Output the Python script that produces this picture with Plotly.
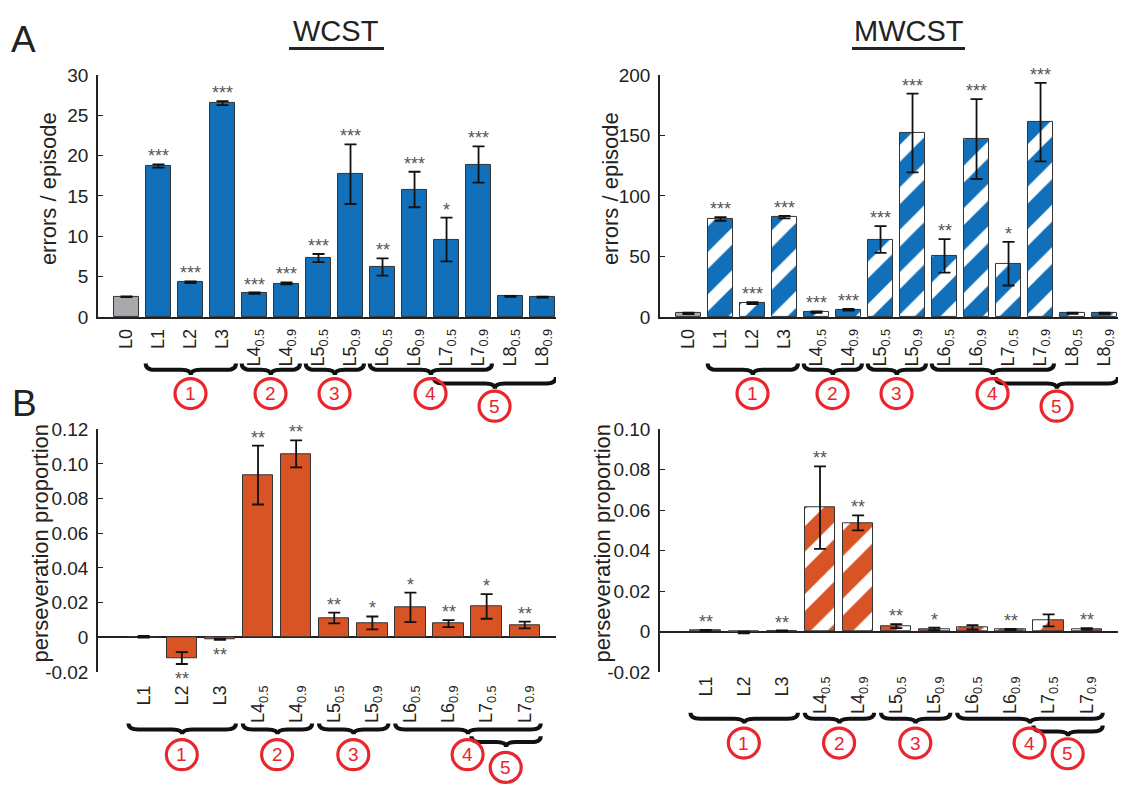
import plotly.graph_objects as go

W, H = 1125, 792

labels_A = ['L0', 'L1', 'L2', 'L3',
            'L4<sub>0.5</sub>', 'L4<sub>0.9</sub>', 'L5<sub>0.5</sub>', 'L5<sub>0.9</sub>',
            'L6<sub>0.5</sub>', 'L6<sub>0.9</sub>', 'L7<sub>0.5</sub>', 'L7<sub>0.9</sub>',
            'L8<sub>0.5</sub>', 'L8<sub>0.9</sub>']
labels_B = labels_A[1:12]

wcst_err_mean = [2.5, 18.7, 4.3, 26.5, 2.95, 4.15, 7.3, 17.7, 6.2, 15.8, 9.6, 18.9, 2.55, 2.45]
wcst_err_sem = [0.05, 0.2, 0.1, 0.25, 0.08, 0.12, 0.5, 3.7, 1.07, 2.2, 2.7, 2.25, 0.06, 0.06]
wcst_err_stars = ['', '***', '***', '***', '***', '***', '***', '***', '**', '***', '*', '***', '', '']

mwcst_err_mean = [3, 81, 11.5, 82.5, 4, 6, 64, 152, 50.5, 147, 44, 161, 3, 3]
mwcst_err_sem = [0.6, 1.5, 0.8, 1.0, 0.6, 0.7, 11, 32.5, 13.8, 33, 18, 32.5, 0.5, 0.5]
mwcst_err_stars = ['', '***', '***', '***', '***', '***', '***', '***', '**', '***', '*', '***', '', '']

wcst_pers_mean = [0.0003, -0.012, -0.0011, 0.0936, 0.1058, 0.0111, 0.0083, 0.0173, 0.0079, 0.0178, 0.0071]
wcst_pers_sem = [0.0005, 0.0034, 0.0003, 0.017, 0.0078, 0.0031, 0.0037, 0.0085, 0.002, 0.0071, 0.0019]
wcst_pers_stars = ['', '**', '**', '**', '**', '**', '*', '*', '**', '*', '**']

mwcst_pers_mean = [0.0005, -0.0005, 0.0003, 0.0613, 0.0537, 0.0027, 0.0013, 0.0021, 0.001, 0.0055, 0.0013]
mwcst_pers_sem = [0.0003, 0.0004, 0.0002, 0.0204, 0.0037, 0.001, 0.0006, 0.0011, 0.0003, 0.003, 0.0004]
mwcst_pers_stars = ['**', '', '**', '**', '**', '**', '*', '', '**', '', '**']

ticks_A = [0, 5, 10, 15, 20, 25, 30]
ticks_A_right = [0, 50, 100, 150, 200]
ticks_B_left = [-0.02, 0, 0.02, 0.04, 0.06, 0.08, 0.10, 0.12]
ticktext_B_left = ['-0.02', '0', '0.02', '0.04', '0.06', '0.08', '0.10', '0.12']
ticks_B_right = [-0.02, 0, 0.02, 0.04, 0.06, 0.08, 0.10]
ticktext_B_right = ['-0.02', '0', '0.02', '0.04', '0.06', '0.08', '0.10']

# brace groups: (first index, last index, label, level)
braces_A = [(1, 3, '1', 0), (4, 5, '2', 0), (6, 7, '3', 0), (8, 11, '4', 0), (10, 13, '5', 1)]
braces_B = [(0, 2, '1', 0), (3, 4, '2', 0), (5, 6, '3', 0), (7, 10, '4', 0), (9, 10, '5', 1)]

BLUE = '#1170B9'
GRAY = '#A7A9AC'
ORANGE = '#D85425'
RED = '#E8262B'
INK = '#222222'
FONT = 'Liberation Sans, Arial, Helvetica, sans-serif'


def px_x(p):
    return p / W


def px_y(p):
    return 1 - p / H


def err(arr):
    return dict(type='data', array=arr, color='#111111', thickness=1.8, width=6)


def hatch(col):
    return dict(shape='/', fgcolor=col, bgcolor='white', size=30, solidity=0.6, fillmode='replace')


OUTLINE = dict(color='#333333', width=1)

fig = go.Figure()

# ---------- Panel A left: WCST errors ----------
nA = len(labels_A)
fig.add_trace(go.Bar(
    x=list(range(nA)), y=wcst_err_mean, width=0.8,
    marker=dict(color=[GRAY] + [BLUE] * (nA - 1), line=OUTLINE),
    error_y=err(wcst_err_sem), xaxis='x', yaxis='y'))

# ---------- Panel A right: MWCST errors (L0 solid grey, rest hatched) ----------
fig.add_trace(go.Bar(
    x=[0], y=mwcst_err_mean[:1], width=0.8,
    marker=dict(color=GRAY, line=OUTLINE),
    error_y=err(mwcst_err_sem[:1]), xaxis='x2', yaxis='y2'))
fig.add_trace(go.Bar(
    x=list(range(1, nA)), y=mwcst_err_mean[1:], width=0.8,
    marker=dict(color='white', line=OUTLINE, pattern=hatch(BLUE)),
    error_y=err(mwcst_err_sem[1:]), xaxis='x2', yaxis='y2'))

# ---------- Panel B left: WCST perseveration ----------
nB = len(labels_B)
fig.add_trace(go.Bar(
    x=list(range(nB)), y=wcst_pers_mean, width=0.8,
    marker=dict(color=ORANGE, line=OUTLINE),
    error_y=err(wcst_pers_sem), xaxis='x3', yaxis='y3'))

# ---------- Panel B right: MWCST perseveration (hatched) ----------
fig.add_trace(go.Bar(
    x=list(range(nB)), y=mwcst_pers_mean, width=0.8,
    marker=dict(color='white', line=OUTLINE, pattern=hatch(ORANGE)),
    error_y=err(mwcst_pers_sem), xaxis='x4', yaxis='y4'))

# domains (pixel based)
xL = [px_x(98), px_x(556)]
xR = [px_x(660), px_x(1118)]
yA = [px_y(315.3), px_y(66.7)]
yB = [px_y(680), px_y(430.7)]

xcommon = dict(showgrid=False, zeroline=False, ticks='', tickangle=-90,
               tickfont=dict(size=18, color=INK, family=FONT), fixedrange=True)
ycommon = dict(showgrid=False, ticks='inside', ticklen=5, tickwidth=1.2, tickcolor=INK,
               showline=True, linecolor=INK, linewidth=1.5,
               tickfont=dict(size=19, color=INK, family=FONT), ticklabelstandoff=4)

fig.update_layout(
    width=W, height=H, margin=dict(l=0, r=0, t=0, b=0),
    paper_bgcolor='white', plot_bgcolor='white', showlegend=False, barmode='overlay',
    font=dict(family=FONT, color=INK), bargap=0,
    xaxis=dict(domain=xL, anchor='y', range=[-0.89, 13.42], tickvals=list(range(nA)), ticktext=labels_A,
               showline=True, linecolor=INK, linewidth=1.5, ticklabelstandoff=3, **xcommon),
    yaxis=dict(domain=yA, anchor='x', range=[0, 30], tickvals=ticks_A, zeroline=False, **ycommon),
    xaxis2=dict(domain=xR, anchor='y2', range=[-0.89, 13.42], tickvals=list(range(nA)), ticktext=labels_A,
                showline=True, linecolor=INK, linewidth=1.5, ticklabelstandoff=3, **xcommon),
    yaxis2=dict(domain=yA, anchor='x2', range=[0, 200], tickvals=ticks_A_right, zeroline=False, **ycommon),
    xaxis3=dict(domain=xL, anchor='y3', range=[-1.2, 10.82], tickvals=list(range(nB)), ticktext=labels_B,
                showline=False, ticklabelstandoff=9, **xcommon),
    yaxis3=dict(domain=yB, anchor='x3', range=[-0.02, 0.12], tickvals=ticks_B_left, ticktext=ticktext_B_left,
                zeroline=True, zerolinecolor=INK, zerolinewidth=1.5, **ycommon),
    xaxis4=dict(domain=xR, anchor='y4', range=[-1.2, 10.82], tickvals=list(range(nB)), ticktext=labels_B,
                showline=False, ticklabelstandoff=0, **xcommon),
    yaxis4=dict(domain=yB, anchor='x4', range=[-0.02, 0.10], tickvals=ticks_B_right, ticktext=ticktext_B_right,
                zeroline=True, zerolinecolor=INK, zerolinewidth=1.5, **ycommon),
)

annotations = []
shapes = []


def add_stars(means, sems, stars, xref, yref):
    for i, (m, s, st) in enumerate(zip(means, sems, stars)):
        if not st:
            continue
        if m >= 0:
            annotations.append(dict(x=i, y=m + s, xref=xref, yref=yref, text=st, showarrow=False,
                                    xanchor='center', yanchor='bottom', yshift=-4,
                                    font=dict(size=18, color='#555555', family=FONT)))
        else:
            annotations.append(dict(x=i, y=m - s, xref=xref, yref=yref, text=st, showarrow=False,
                                    xanchor='center', yanchor='top', yshift=-3,
                                    font=dict(size=18, color='#555555', family=FONT)))


add_stars(wcst_err_mean, wcst_err_sem, wcst_err_stars, 'x', 'y')
add_stars(mwcst_err_mean, mwcst_err_sem, mwcst_err_stars, 'x2', 'y2')
add_stars(wcst_pers_mean, wcst_pers_sem, wcst_pers_stars, 'x3', 'y3')
add_stars(mwcst_pers_mean, mwcst_pers_sem, mwcst_pers_stars, 'x4', 'y4')


def add_braces(groups, xref, ytops, depth, circ_y, r):
    for a, b, lab, lev in groups:
        x0, x1 = a - 0.4, b + 0.42
        xc = (x0 + x1) / 2
        yt = px_y(ytops[lev])
        ym = px_y(ytops[lev] + depth * 0.55)
        yb = px_y(ytops[lev] + depth)
        path = (f"M{x0},{yt} Q{x0},{ym} {x0 + r},{ym} L{xc - r},{ym} "
                f"Q{xc},{ym} {xc},{yb} Q{xc},{ym} {xc + r},{ym} "
                f"L{x1 - r},{ym} Q{x1},{ym} {x1},{yt}")
        shapes.append(dict(type='path', xref=xref, yref='paper', path=path,
                           line=dict(color='#111111', width=4), layer='below'))
        cx = (a + b) / 2
        cy = px_y(circ_y[lev])
        shapes.append(dict(type='circle', xref=xref, yref='paper', xsizemode='pixel', ysizemode='pixel',
                           xanchor=cx, yanchor=cy, x0=-15.5, x1=15.5, y0=-15, y1=15,
                           line=dict(color=RED, width=3.2)))
        annotations.append(dict(x=cx, y=cy, xref=xref, yref='paper', text=lab, showarrow=False,
                                xanchor='center', yanchor='middle',
                                font=dict(size=19, color=RED, family=FONT)))


add_braces(braces_A, 'x', [363, 377], 12, [394, 407], 0.3)
add_braces(braces_A, 'x2', [363, 377], 12, [394, 407], 0.3)
add_braces(braces_B, 'x3', [733, 746], 11, [765, 778], 0.26)
add_braces(braces_B, 'x4', [722, 735], 11, [753, 764], 0.26)

# axis titles
for x_px, y_px, txt in [(48, 184, 'errors / episode'), (610, 184, 'errors / episode'),
                        (40, 548, 'perseveration proportion'), (602, 548, 'perseveration proportion')]:
    annotations.append(dict(x=px_x(x_px), y=px_y(y_px), xref='paper', yref='paper', text=txt,
                            textangle=-90, showarrow=False, xanchor='center', yanchor='middle',
                            font=dict(size=22, color=INK, family=FONT)))

# panel titles with underline
for cx, x0, x1, txt in [(336, 289, 384, 'WCST'), (909, 852, 965, 'MWCST')]:
    annotations.append(dict(x=px_x(cx), y=px_y(22), xref='paper', yref='paper', text=txt,
                            showarrow=False, xanchor='center', yanchor='middle',
                            font=dict(size=29, color=INK, family=FONT)))
    shapes.append(dict(type='line', xref='paper', yref='paper', x0=px_x(x0), x1=px_x(x1),
                       y0=px_y(39.5), y1=px_y(39.5), line=dict(color=INK, width=3)))

# panel letters
for x_px, y_px, txt in [(23.5, 30, 'A'), (24, 404, 'B')]:
    annotations.append(dict(x=px_x(x_px), y=px_y(y_px), xref='paper', yref='paper', text=txt,
                            showarrow=False, xanchor='center', yanchor='middle',
                            font=dict(size=37, color=INK, family=FONT)))

fig.update_layout(annotations=annotations, shapes=shapes)
fig.write_html('out.html')
